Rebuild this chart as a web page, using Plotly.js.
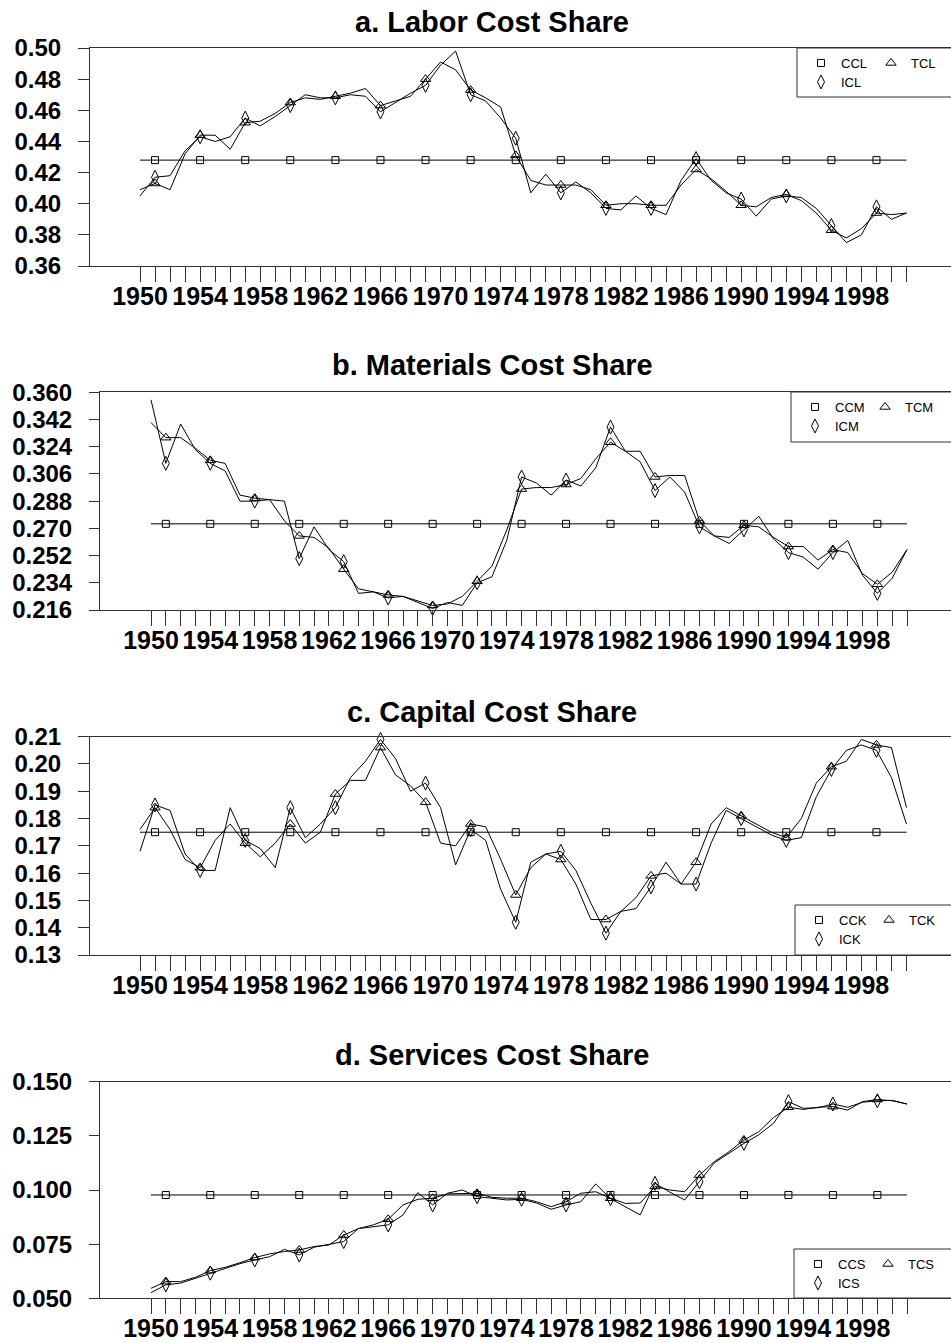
<!DOCTYPE html>
<html>
<head>
<meta charset="utf-8">
<script src="https://cdn.plot.ly/plotly-3.0.1.min.js"></script>
<style>
html,body{margin:0;padding:0;background:#fff;}
#chart{width:951px;height:1343px;}
</style>
</head>
<body>
<div id="chart"></div>
<script>
// ---------------- DATA ----------------
const years = [1950,1951,1952,1953,1954,1955,1956,1957,1958,1959,
               1960,1961,1962,1963,1964,1965,1966,1967,1968,1969,
               1970,1971,1972,1973,1974,1975,1976,1977,1978,1979,
               1980,1981,1982,1983,1984,1985,1986,1987,1988,1989,
               1990,1991,1992,1993,1994,1995,1996,1997,1998,1999,
               2000,2001];
const xTickLabels = ['1950','1954','1958','1962','1966','1970','1974','1978','1982','1986','1990','1994','1998'];

// a. Labor
const laborCC = 0.428;
const laborTC = [0.409,0.413,0.409,0.432,0.444,0.444,0.435,0.452,0.453,0.458,
                 0.465,0.468,0.467,0.469,0.471,0.474,0.463,0.466,0.469,0.480,
                 0.491,0.486,0.473,0.468,0.462,0.431,0.415,0.412,0.412,0.412,
                 0.409,0.399,0.400,0.400,0.399,0.399,0.412,0.422,0.416,0.408,
                 0.399,0.398,0.404,0.406,0.402,0.394,0.383,0.378,0.384,0.394,
                 0.393,0.394];
const laborIC = [0.405,0.417,0.418,0.434,0.443,0.440,0.443,0.455,0.450,0.456,
                 0.463,0.470,0.468,0.468,0.470,0.469,0.459,0.465,0.471,0.476,
                 0.489,0.498,0.470,0.466,0.455,0.442,0.407,0.419,0.407,0.414,
                 0.407,0.397,0.396,0.405,0.397,0.393,0.415,0.429,0.415,0.407,
                 0.403,0.392,0.403,0.405,0.404,0.397,0.386,0.375,0.380,0.398,
                 0.390,0.394];
const laborTickVals = [0.36,0.38,0.40,0.42,0.44,0.46,0.48,0.50];
const laborTickText = ['0.36','0.38','0.40','0.42','0.44','0.46','0.48','0.50'];

// b. Materials
const matCC = 0.273;
const matTC = [0.340,0.330,0.330,0.323,0.315,0.313,0.292,0.290,0.289,0.275,
               0.265,0.264,0.257,0.243,0.230,0.228,0.226,0.225,0.222,0.219,
               0.220,0.225,0.235,0.245,0.269,0.296,0.297,0.297,0.299,0.303,
               0.316,0.327,0.321,0.321,0.304,0.305,0.305,0.275,0.265,0.264,
               0.272,0.271,0.264,0.258,0.258,0.249,0.256,0.254,0.240,0.233,
               0.241,0.256];
const matIC = [0.355,0.313,0.339,0.322,0.313,0.308,0.288,0.288,0.289,0.288,
               0.250,0.271,0.256,0.248,0.227,0.228,0.224,0.225,0.221,0.217,
               0.221,0.219,0.234,0.238,0.262,0.304,0.300,0.292,0.302,0.298,
               0.310,0.337,0.321,0.314,0.295,0.304,0.294,0.271,0.265,0.260,
               0.269,0.278,0.263,0.254,0.251,0.243,0.254,0.262,0.239,0.227,
               0.237,0.256];
const matTickVals = [0.216,0.234,0.252,0.270,0.288,0.306,0.324,0.342,0.360];
const matTickText = ['0.216','0.234','0.252','0.270','0.288','0.306','0.324','0.342','0.360'];

// c. Capital
const capCC = 0.175;
const capTC = [0.176,0.184,0.176,0.165,0.162,0.172,0.178,0.171,0.166,0.171,
               0.178,0.171,0.175,0.189,0.194,0.194,0.206,0.196,0.192,0.186,
               0.171,0.170,0.178,0.177,0.165,0.152,0.162,0.167,0.165,0.156,
               0.143,0.143,0.146,0.151,0.159,0.160,0.156,0.164,0.178,0.184,
               0.181,0.178,0.175,0.173,0.180,0.193,0.199,0.201,0.209,0.207,
               0.206,0.184];
const capIC = [0.168,0.185,0.183,0.167,0.161,0.161,0.184,0.172,0.169,0.162,
               0.184,0.173,0.178,0.184,0.195,0.201,0.209,0.202,0.190,0.193,
               0.184,0.163,0.176,0.172,0.154,0.142,0.164,0.167,0.168,0.161,
               0.149,0.138,0.146,0.147,0.155,0.164,0.156,0.156,0.171,0.183,
               0.180,0.177,0.174,0.172,0.173,0.188,0.198,0.205,0.207,0.205,
               0.195,0.178];
const capTickVals = [0.13,0.14,0.15,0.16,0.17,0.18,0.19,0.20,0.21];
const capTickText = ['0.13','0.14','0.15','0.16','0.17','0.18','0.19','0.20','0.21'];

// d. Services
const servCC = 0.0977;
const servTC = [0.0546,0.0577,0.0577,0.0597,0.0628,0.0643,0.0664,0.0688,0.0705,0.0716,
                0.0723,0.0739,0.0746,0.0792,0.0822,0.0839,0.0865,0.0931,0.0957,0.0962,
                0.0982,0.0982,0.0985,0.0966,0.0962,0.0962,0.0946,0.0923,0.0946,0.0985,
                0.0992,0.0962,0.0938,0.0940,0.1016,0.1000,0.0992,0.1069,0.1131,0.1177,
                0.1231,0.1269,0.1335,0.1382,0.1372,0.1382,0.1385,0.1369,0.1408,0.1418,
                0.1412,0.1397];
const servIC = [0.0526,0.0562,0.0570,0.0592,0.0616,0.0639,0.0660,0.0677,0.0692,0.0726,
                0.0700,0.0736,0.0750,0.0762,0.0822,0.0831,0.0839,0.0885,0.0988,0.0931,
                0.0985,0.1000,0.0969,0.0962,0.0954,0.0957,0.0940,0.0911,0.0931,0.0946,
                0.1028,0.0960,0.0923,0.0885,0.1031,0.0990,0.0954,0.1038,0.1125,0.1170,
                0.1215,0.1255,0.1308,0.1408,0.1377,0.1380,0.1397,0.1382,0.1405,0.1412,
                0.1414,0.1397];
const servTickVals = [0.050,0.075,0.100,0.125,0.150];
const servTickText = ['0.050','0.075','0.100','0.125','0.150'];

// ---------------- LAYOUT HELPERS ----------------
const FONT = 'Liberation Sans, Arial, Helvetica, sans-serif';
const W = 951, H = 1343;
const fx = x => x / W;
const fy = y => 1 - y / H;
const AX = '#333';

const panels = [
  {title:'a. Labor Cost Share', s:'L', tc:laborTC, ic:laborIC, cc:laborCC, tv:laborTickVals, tt:laborTickText,
   yr:[0.36,0.50], left:90, top:48, bottom:266, x0:140, x1:906.5, tl:11, titleY:22, legX:801, legY:48, box:[797,48,97]},
  {title:'b. Materials Cost Share', s:'M', tc:matTC, ic:matIC, cc:matCC, tv:matTickVals, tt:matTickText,
   yr:[0.216,0.360], left:100, top:392.3, bottom:610, x0:151, x1:907, tl:10, titleY:365, legX:795, legY:392, box:[791,392,442]},
  {title:'c. Capital Cost Share', s:'K', tc:capTC, ic:capIC, cc:capCC, tv:capTickVals, tt:capTickText,
   yr:[0.13,0.21], left:90, top:736.7, bottom:955, x0:140, x1:906.5, tl:11, titleY:712, legX:799, legY:905, box:[795,905,955]},
  {title:'d. Services Cost Share', s:'S', tc:servTC, ic:servIC, cc:servCC, tv:servTickVals, tt:servTickText,
   yr:[0.05,0.15], left:100, top:1081.7, bottom:1298.3, x0:151, x1:907, tl:10, titleY:1055, legX:798, legY:1249, box:[794,1249,1298]}
];

const markerIdx = years.map((y,i)=>i).filter(i => (years[i]-1951) % 3 === 0);
const tickText = years.map(y => xTickLabels.indexOf(String(y)) >= 0 ? String(y) : '');

const traces = [];
const layout = {
  width: W, height: H,
  margin:{l:0,r:0,t:0,b:0},
  paper_bgcolor:'#fff', plot_bgcolor:'rgba(0,0,0,0)',
  showlegend:true,
  annotations:[], shapes:[]
};

panels.forEach((p, k) => {
  const n = k + 1;
  const xa = 'x' + (n === 1 ? '' : n), ya = 'y' + (n === 1 ? '' : n);
  const leg1 = 'legend' + (k === 0 ? '' : (2*k+1));
  const leg2 = 'legend' + (2*k+2);
  const lineStyle = {color:'#000', width:1};

  // lines
  traces.push({x:years, y:years.map(() => p.cc), xaxis:xa, yaxis:ya, mode:'lines', line:lineStyle, showlegend:false, hoverinfo:'skip', cliponaxis:false});
  traces.push({x:years, y:p.tc, xaxis:xa, yaxis:ya, mode:'lines', line:lineStyle, showlegend:false, hoverinfo:'skip', cliponaxis:false});
  traces.push({x:years, y:p.ic, xaxis:xa, yaxis:ya, mode:'lines', line:lineStyle, showlegend:false, hoverinfo:'skip', cliponaxis:false});

  // markers every third year
  const mx = markerIdx.map(i => years[i]);
  const mk = (sym, size) => ({symbol:sym, size:size, color:'#000', line:{color:'#000', width:1}});
  traces.push({name:'CC'+p.s, legend:leg1, x:mx, y:mx.map(() => p.cc), xaxis:xa, yaxis:ya, mode:'markers',
               marker:mk('square-open',7), cliponaxis:false});
  traces.push({name:'TC'+p.s, legend:leg1, x:mx, y:markerIdx.map(i => p.tc[i]), xaxis:xa, yaxis:ya, mode:'markers',
               marker:mk('triangle-up-open',9), cliponaxis:false});
  traces.push({name:'IC'+p.s, legend:leg2, x:mx, y:markerIdx.map(i => p.ic[i]), xaxis:xa, yaxis:ya, mode:'markers',
               marker:mk('diamond-tall-open',10), cliponaxis:false});

  const slope = (p.x1 - p.x0) / 51;
  layout['xaxis' + (n === 1 ? '' : n)] = {
    domain:[fx(p.left), 1], anchor:ya,
    range:[1950 + (p.left - p.x0)/slope, 1950 + (W - p.x0)/slope],
    tickmode:'array', tickvals:years, ticktext:tickText,
    ticks:'outside', ticklen:15, tickwidth:1, tickcolor:AX,
    showline:true, linecolor:AX, linewidth:1, mirror:true,
    showgrid:false, zeroline:false, fixedrange:true,
    ticklabelstandoff:-7,
    tickfont:{family:FONT, size:25, color:'#000', weight:700}
  };
  layout['yaxis' + (n === 1 ? '' : n)] = {
    domain:[fy(p.bottom), fy(p.top)], anchor:xa,
    range:p.yr,
    tickmode:'array', tickvals:p.tv, ticktext:p.tt,
    ticks:'outside', ticklen:p.tl, tickwidth:1, tickcolor:AX,
    showline:true, linecolor:AX, linewidth:1,
    showgrid:false, zeroline:false, fixedrange:true,
    ticklabelstandoff:12,
    tickfont:{family:FONT, size:24, color:'#000', weight:700}
  };

  const legBase = {xanchor:'left', yanchor:'top', orientation:'h', bgcolor:'rgba(0,0,0,0)',
                   borderwidth:0, font:{family:FONT, size:13, color:'#000'},
                   entrywidth:25, entrywidthmode:'pixels', itemclick:false, itemdoubleclick:false};
  layout[leg1] = Object.assign({}, legBase, {x:fx(p.legX), y:fy(p.legY)});
  layout[leg2] = Object.assign({}, legBase, {x:fx(p.legX), y:fy(p.legY + 19)});

  layout.shapes.push({type:'rect', xref:'paper', yref:'paper',
    x0:fx(p.box[0]), x1:fx(W + 5), y0:fy(p.box[2]), y1:fy(p.box[1]),
    line:{color:AX, width:1}, fillcolor:'rgba(0,0,0,0)'});

  layout.annotations.push({xref:'paper', yref:'paper', x:fx(492), y:fy(p.titleY),
    xanchor:'center', yanchor:'middle', showarrow:false, text:p.title,
    font:{family:FONT, size:29, color:'#000', weight:700}});
});

Plotly.newPlot('chart', traces, layout, {displayModeBar:false, staticPlot:true});
</script>
</body>
</html>
